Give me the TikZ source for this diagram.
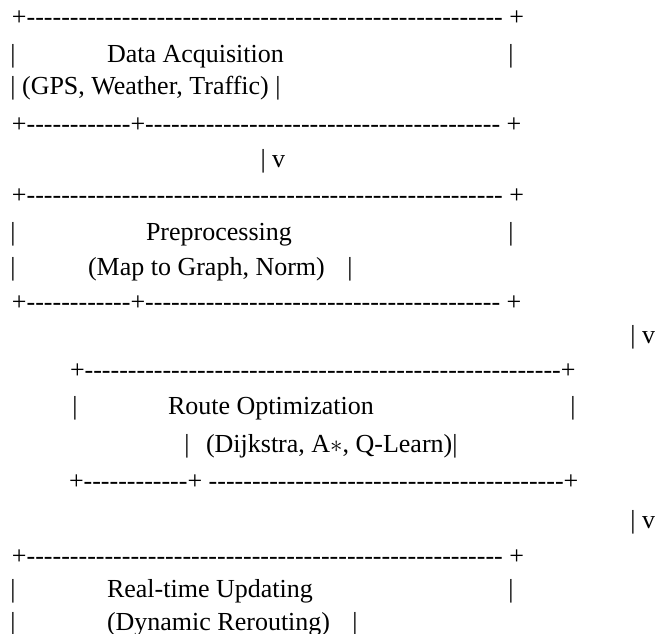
\documentclass[tikz,border=0pt]{standalone}
\usepackage{fontspec}
\setmainfont{Liberation Serif}[Ligatures=TeXOff]
\usepackage{tikz}
% a run of n hyphens
\newcommand\dashrun[1]{\ifnum#1>0 -\expandafter\dashrun\expandafter{\the\numexpr#1-1\relax}\fi}

\begin{document}
\begin{tikzpicture}[x=1pt,y=-1pt,
    ln/.style={anchor=base west,inner sep=0pt,outer sep=0pt,
               font=\fontsize{26}{30}\selectfont}
  ]
    \useasboundingbox (0,0) rectangle (655,633);

    % Data Acquisition
    \node[ln] (top1)  at (12,25)    {+\dashrun{55} +};
    \node[ln] (l1a)   at (10.4,62)  {|};
    \node[ln] (t1a)   at (107,62)   {Data Acquisition};
    \node[ln] (r1a)   at (508.4,62) {|};
    \node[ln] (t1b)   at (10.4,94)  {| (GPS, Weather, Traffic) |};
    \node[ln] (bot1)  at (12,132)   {+\dashrun{12}+\dashrun{41} +};
    \node[ln] (arr1)  at (260.5,167){| v};

    % Preprocessing
    \node[ln] (top2)  at (12,203)   {+\dashrun{55} +};
    \node[ln] (l2a)   at (10.4,240) {|};
    \node[ln] (t2a)   at (146,240)  {Preprocessing};
    \node[ln] (r2a)   at (508.4,240){|};
    \node[ln] (l2b)   at (10.4,275) {|};
    \node[ln] (t2b)   at (88,275)   {(Map to Graph, Norm)};
    \node[ln] (r2b)   at (347.4,275){|};
    \node[ln] (bot2)  at (12,310)   {+\dashrun{12}+\dashrun{41} +};
    \node[ln] (arr2)  at (630.4,343){| v};

    % Route Optimization
    \node[ln] (top3)  at (70,378)   {+\dashrun{55}+};
    \node[ln] (l3a)   at (72.4,414) {|};
    \node[ln] (t3a)   at (168,414)  {Route Optimization};
    \node[ln] (r3a)   at (570.4,414){|};
    \node[ln] (l3b)   at (184.4,452){|};
    \node[ln] (t3b)   at (206,452)  {(Dijkstra, A$\ast$, Q-Learn)|};
    \node[ln] (bot3)  at (69,489)   {+\dashrun{12}+ \dashrun{41}+};
    \node[ln] (arr3)  at (630.4,528){| v};

    % Real-time Updating
    \node[ln] (top4)  at (12,564)   {+\dashrun{55} +};
    \node[ln] (l4a)   at (10.4,597) {|};
    \node[ln] (t4a)   at (107,597)  {Real-time Updating};
    \node[ln] (r4a)   at (508.4,597){|};
    \node[ln] (l4b)   at (10.4,630) {|};
    \node[ln] (t4b)   at (107,630)  {(Dynamic Rerouting)};
    \node[ln] (r4b)   at (352.4,630){|};
\end{tikzpicture}
\end{document}
